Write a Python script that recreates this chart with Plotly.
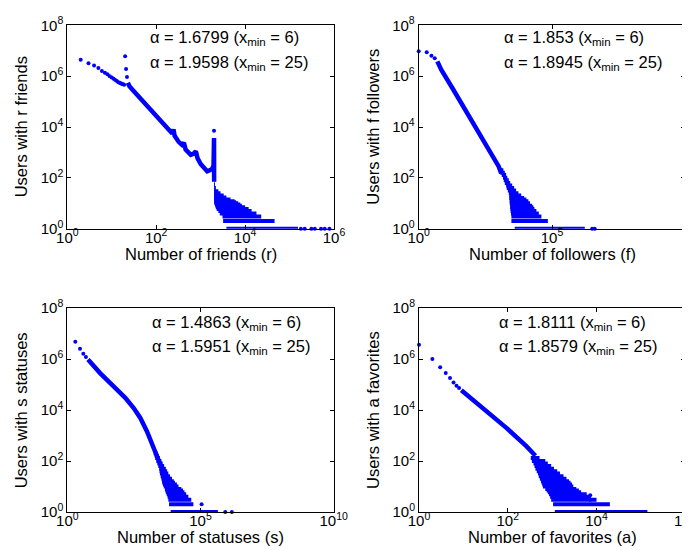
import plotly.graph_objects as go

# ---- friends (top left) ----
fr_pts_x = [2, 3, 4, 5, 6, 7, 8, 9, 10, 11, 12, 13, 14, 15, 16, 17, 18, 19, 20, 21, 22, 2000,
            180000, 220000, 310000, 370000, 510000, 620000, 790000]
fr_pts_y = [4.4e6, 3.2e6, 2.6e6, 2.1e6, 1.6e6, 1.35e6, 1.18e6, 1.0e6, 8.9e5, 7.9e5, 7.0e5, 6.4e5,
            5.8e5, 5.5e5, 5.2e5, 4.9e5, 4.8e5, 4.6e5, 6.0e6, 1.9e6, 9.2e5, 7.1e3,
            1, 1, 1, 1, 1, 1, 1]
fr_band_x = [23, 25, 30, 40, 60, 100, 150, 200, 230, 245, 260, 320, 380, 420, 460, 600, 700, 780,
             850, 1000, 1200, 1400, 1600, 1800, 1950, 2000, 2010]
fr_band_y = [5.5e5, 4.0e5, 2.8e5, 1.6e5, 7.5e4, 2.8e4, 1.3e4, 7.0e3, 5.6e3, 8.0e3, 4.5e3, 2.6e3,
             2.0e3, 2.4e3, 1.3e3, 800, 900, 1.1e3, 600, 350, 240, 180, 200, 220, 300, 3.7e3, 70]
fr_row_c = [1, 2, 3, 4, 5, 6, 7, 8, 9, 10, 11, 12, 14, 17, 20, 25, 30, 40, 55, 70]
fr_row_lo = [3800, 3200, 3100, 2700, 2500, 2300, 2200, 2150, 2100, 2050, 2030, 2020, 2010, 2005,
             2000, 2000, 2000, 2000, 2000, 2000]
fr_row_hi = [155000, 46000, 23000, 18000, 14000, 12000, 10000, 8500, 7800, 7000, 6300, 5800, 4700,
             3800, 3300, 2800, 2500, 2200, 2100, 2050]

# ---- followers (top right) ----
fo_pts_x = [1, 2, 3, 4, 3.2e6, 4.0e6]
fo_pts_y = [9.5e6, 8.7e6, 6.3e6, 5.1e6, 1, 1]
fo_band_x = [5, 7, 19, 82, 345, 1000, 1250]
fo_band_y = [3.8e6, 1.8e6, 3.2e5, 2.3e4, 2.0e3, 2.8e2, 1.5e2]
fo_row_c = [1, 2, 3, 4, 5, 6, 7, 8, 10, 12, 14, 16, 20, 25, 32, 40, 50, 63, 80, 100, 130, 160, 200]
fo_row_lo = [4000, 3000, 3000, 2900, 2800, 2800, 2700, 2700, 2600, 2600, 2600, 2500, 2500, 2400,
             2200, 2000, 1900, 1700, 1550, 1450, 1300, 1150, 1050]
fo_row_hi = [1.7e6, 7e4, 4e4, 3.2e4, 2.6e4, 2.2e4, 2.0e4, 1.8e4, 1.5e4, 1.3e4, 1.1e4, 9e3, 7e3,
             5.5e3, 4.5e3, 3.8e3, 3.2e3, 2.7e3, 2.4e3, 2.1e3, 1.9e3, 1.7e3, 1.5e3]

# ---- statuses (bottom left) ----
st_pts_x = [2, 3, 4, 5, 1.1e5, 8.5e5, 1.5e6]
st_pts_y = [4.8e6, 2.5e6, 1.6e6, 1.2e6, 2, 1, 1]
st_band_x = [6, 10, 17, 73, 150, 310, 550, 980, 1500, 2300, 3000]
st_band_y = [9.5e5, 5.2e5, 2.8e5, 6.3e4, 3.0e4, 1.2e4, 4.9e3, 1.45e3, 510, 178, 80]
st_row_c = [1, 2, 3, 4, 5, 6, 7, 8, 10, 12, 14, 16, 20, 25, 32, 40, 50, 63, 80, 100, 130, 160, 200]
st_row_lo = [7600, 6600, 6200, 5800, 5400, 5000, 4800, 4600, 4200, 3900, 3700, 3600, 3400, 3200,
             3000, 2900, 2800, 2600, 2400, 2200, 2000, 1900, 1750]
st_row_hi = [4.5e5, 5.4e4, 4.5e4, 3.5e4, 2.9e4, 2.5e4, 2.2e4, 1.9e4, 1.5e4, 1.3e4, 1.1e4, 1.0e4,
             8.5e3, 7.2e3, 6.2e3, 5.6e3, 5.0e3, 4.3e3, 3.8e3, 3.4e3, 3.0e3, 2.7e3, 2.4e3]

# ---- favorites (bottom right) ----
fa_pts_x = [1, 2, 3, 4, 5, 6, 7, 8, 4400, 7200, 7200]
fa_pts_y = [3.6e6, 1.0e6, 4.7e5, 2.8e5, 1.8e5, 1.2e5, 9e4, 7.3e4, 4.8, 4.5, 3]
fa_band_x = [9, 33, 93, 262, 420]
fa_band_y = [6.0e4, 8.9e3, 2.0e3, 380, 160]
fa_row_c = [1, 2, 3, 4, 5, 6, 7, 8, 10, 12, 14, 16, 20, 25, 32, 40, 50, 63, 80, 100, 130]
fa_row_lo = [1150, 1050, 950, 900, 850, 800, 750, 700, 620, 600, 580, 560, 530, 500, 480, 450, 420,
             400, 380, 350, 330]
fa_row_hi = [1.4e5, 2.0e4, 1.0e4, 7.5e3, 6.0e3, 4.5e3, 4.0e3, 3.5e3, 3.0e3, 2.8e3, 2.6e3, 2.4e3,
             2.1e3, 1.8e3, 1.5e3, 1.3e3, 1.1e3, 950, 800, 700, 520]

alphas = [("1.6799", "1.9598"), ("1.853", "1.8945"), ("1.4863", "1.5951"), ("1.8111", "1.8579")]
x_titles = ["Number of friends (r)", "Number of followers (f)",
            "Number of statuses (s)", "Number of favorites (a)"]
y_titles = ["Users with r friends", "Users with f followers",
            "Users with s statuses", "Users with a favorites"]

W, H = 690, 550
BLUE = "#0000ff"
FONT = "Liberation Sans, Arial, Helvetica, sans-serif"

panels = [
    dict(pts=(fr_pts_x, fr_pts_y), band=(fr_band_x, fr_band_y), rows=(fr_row_c, fr_row_lo, fr_row_hi),
         xdom=(59.3, 326), ydom=(17.3, 220.7), xdec=[0, 2, 4, 6], txt=(140, 30)),
    dict(pts=(fo_pts_x, fo_pts_y), band=(fo_band_x, fo_band_y), rows=(fo_row_c, fo_row_lo, fo_row_hi),
         xdom=(410.7, 677.3), ydom=(17.3, 220.7), xdec=[0, 5, 10], txt=(494, 30)),
    dict(pts=(st_pts_x, st_pts_y), band=(st_band_x, st_band_y), rows=(st_row_c, st_row_lo, st_row_hi),
         xdom=(59.3, 325.7), ydom=(300, 504), xdec=[0, 5, 10], txt=(142, 314.5)),
    dict(pts=(fa_pts_x, fa_pts_y), band=(fa_band_x, fa_band_y), rows=(fa_row_c, fa_row_lo, fa_row_hi),
         xdom=(411, 677.3), ydom=(300, 504), xdec=[0, 2, 4, 6], txt=(489, 314.5)),
]


def sup_labels(decs):
    return [10 ** d for d in decs], ["10<sup>%d</sup>" % d for d in decs]


fig = go.Figure()
annotations = []

for i, p in enumerate(panels):
    n = "" if i == 0 else str(i + 1)
    xa, ya = "x" + n, "y" + n

    c, lo, hi = p["rows"]
    rx, ry = [], []
    for cc, a, b in zip(c, lo, hi):
        rx += [a, b, None]
        ry += [cc, cc, None]
    fig.add_trace(go.Scatter(x=rx, y=ry, mode="lines", line=dict(color=BLUE, width=4),
                             xaxis=xa, yaxis=ya, cliponaxis=False, showlegend=False))
    fig.add_trace(go.Scatter(x=p["band"][0], y=p["band"][1], mode="lines",
                             line=dict(color=BLUE, width=4.5), xaxis=xa, yaxis=ya, showlegend=False))
    fig.add_trace(go.Scatter(x=p["pts"][0], y=p["pts"][1], mode="markers",
                             marker=dict(color=BLUE, size=4), xaxis=xa, yaxis=ya,
                             cliponaxis=False, showlegend=False))

    tv, tt = sup_labels(p["xdec"])
    yv, yt = sup_labels([0, 2, 4, 6, 8])
    common = dict(type="log", showline=True, linecolor="black", linewidth=1, mirror="ticks",
                  ticks="inside", ticklen=4, tickcolor="black", showgrid=False, zeroline=False,
                  tickfont=dict(family=FONT, size=15, color="black"))
    fig.update_layout(**{
        "xaxis" + n: dict(common, domain=[p["xdom"][0] / W, p["xdom"][1] / W],
                          range=[p["xdec"][0], p["xdec"][-1]], tickvals=tv, ticktext=tt,
                          anchor=ya, ticklabelstandoff=-5),
        "yaxis" + n: dict(common, domain=[1 - p["ydom"][1] / H, 1 - p["ydom"][0] / H],
                          range=[0, 8], tickvals=yv, ticktext=yt, anchor=xa),
    })

    tx, ty = p["txt"]
    for k, (a, xm) in enumerate(zip(alphas[i], ["6", "25"])):
        annotations.append(dict(
            x=tx / W, y=1 - (ty + k * 24.7) / H, xref="paper", yref="paper",
            xanchor="left", yanchor="middle", showarrow=False,
            text="α = %s (x<sub>min</sub> = %s)" % (a, xm),
            font=dict(family=FONT, size=16.5, color="black")))

    cx = (p["xdom"][0] + p["xdom"][1]) / 2
    annotations.append(dict(x=cx / W, y=1 - (p["ydom"][1] + 25) / H, xref="paper", yref="paper",
                            xanchor="center", yanchor="middle", showarrow=False, text=x_titles[i],
                            font=dict(family=FONT, size=16.5, color="black")))
    cy = (p["ydom"][0] + p["ydom"][1]) / 2
    annotations.append(dict(x=(p["xdom"][0] - 46) / W, y=1 - cy / H, xref="paper", yref="paper",
                            xanchor="center", yanchor="middle", showarrow=False, text=y_titles[i],
                            textangle=-90, font=dict(family=FONT, size=16.5, color="black")))

fig.update_layout(width=W, height=H, margin=dict(l=0, r=0, t=0, b=0),
                  paper_bgcolor="white", plot_bgcolor="white", annotations=annotations,
                  template="none")

fig.write_html("out.html")
